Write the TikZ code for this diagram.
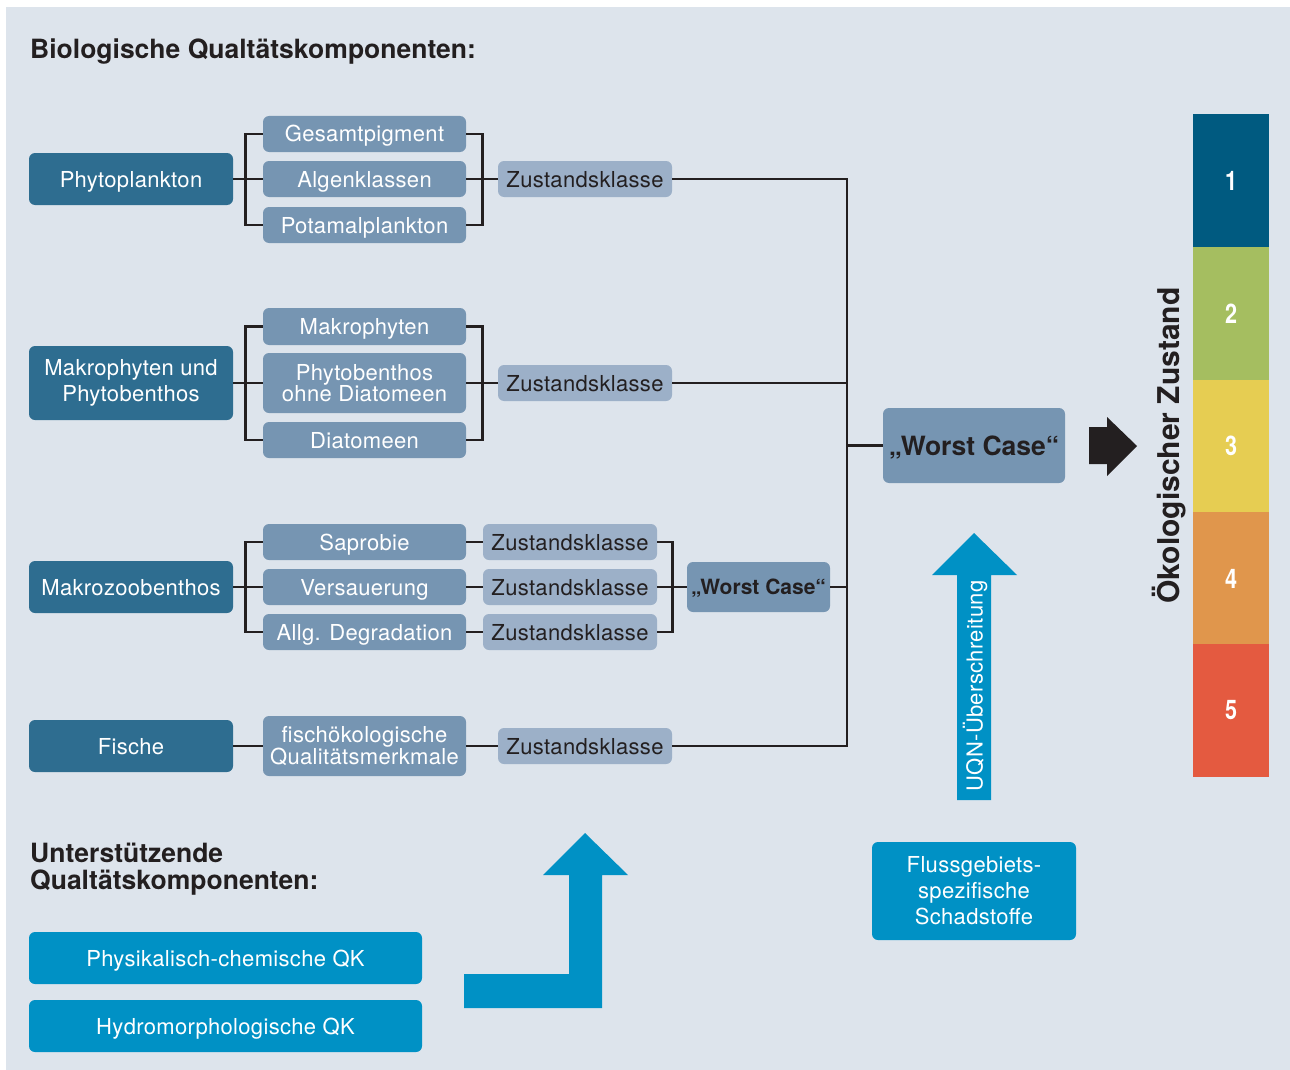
\documentclass[tikz,border=0pt]{standalone}
\usepackage{fontspec}
\setmainfont{TeX Gyre Heros}
\newfontfamily\boxfont[LetterSpace=1.5]{TeX Gyre Heros}
\newfontfamily\numfont[FakeStretch=0.8]{TeX Gyre Heros}
\definecolor{bgc}{HTML}{DDE4EC}
\definecolor{dkbox}{HTML}{2E6D90}
\definecolor{mdbox}{HTML}{7695B2}
\definecolor{ltbox}{HTML}{9CB0C8}
\definecolor{ink}{HTML}{231F20}
\definecolor{qkblue}{HTML}{0091C5}
\definecolor{zA}{HTML}{005A80}
\definecolor{zB}{HTML}{A5BE60}
\definecolor{zC}{HTML}{E6CD52}
\definecolor{zD}{HTML}{E0964C}
\definecolor{zE}{HTML}{E45A40}
\tikzset{
  boxbase/.style={rounded corners=6pt, inner sep=0pt, align=center, font=\boxfont\fontsize{22}{21}\selectfont},
  sl/.style={text height=16pt, text depth=0pt},
  fillmain/.style={boxbase, fill=dkbox, text=white},
  fillsub/.style={boxbase, fill=mdbox, text=white},
  fillqk/.style={boxbase, fill=qkblue, text=white},
  mainbox/.style={fillmain, sl},
  subbox/.style={fillsub, sl},
  qkbox/.style={fillqk, sl},
  zkbox/.style={boxbase, fill=ltbox, text=ink, sl},
  wcbox/.style={boxbase, fill=mdbox, text=ink, font=\bfseries\fontsize{21}{21}\selectfont, text height=15pt, text depth=0pt},
  barseg/.style={inner sep=0pt, text=white, font=\numfont\bfseries\fontsize{27}{27}\selectfont},
  conn/.style={draw=ink, line width=2.8pt},
  heading/.style={inner sep=0pt, text=ink, font=\bfseries\fontsize{26.5}{27}\selectfont}
}
\newcommand\bx[7]{\node[#2, minimum width={#5-#3}, minimum height={#6-#4}] (#1) at ({(#3+#5)/2},{(#4+#6)/2}) {#7};}
\begin{document}
\begin{tikzpicture}[x=1pt,y=-1pt]
\useasboundingbox (0,0) rectangle (1290,1070);
\fill[white] (0,0) rectangle (1290,1070);
\fill[bgc] (6,7) rectangle (1290,1070);

% headings
\node[heading, anchor=base west] (title) at (30,59) {Biologische Qualtätskomponenten:};
\node[heading, anchor=base west] (sub1) at (30,862) {Unterstützende};
\node[heading, anchor=base west] (sub2) at (30,889) {Qualtätskomponenten:};

% Phytoplankton
\bx{phyto}{mainbox}{29}{153}{233}{205}{Phytoplankton}
\bx{gesamt}{subbox}{263}{116}{466}{152}{Gesamtpigment}
\bx{algen}{subbox}{263}{161}{466}{197}{Algenklassen}
\bx{potamal}{subbox}{263}{207}{466}{243}{Potamalplankton}
\bx{zkA}{zkbox}{498}{161}{672}{197}{Zustandsklasse}

% Makrophyten
\bx{makro}{fillmain, font=\boxfont\fontsize{22}{26}\selectfont}{29}{346}{233}{420}{Makrophyten und\\Phytobenthos}
\bx{makroph}{subbox}{263}{308}{466}{345}{Makrophyten}
\bx{phytob}{fillsub}{263}{353}{466}{413}{Phytobenthos\\ohne Diatomeen}
\bx{diat}{subbox}{263}{422}{466}{458}{Diatomeen}
\bx{zkB}{zkbox}{498}{365}{672}{401}{Zustandsklasse}

% Makrozoobenthos
\bx{mzb}{mainbox}{29}{561}{233}{613}{Makrozoobenthos}
\bx{sapro}{subbox}{263}{524}{466}{560}{Saprobie}
\bx{versau}{subbox}{263}{569}{466}{605}{Versauerung}
\bx{degrad}{subbox}{263}{614}{466}{650}{Allg. Degradation}
\bx{zkCa}{zkbox}{483}{524}{657}{560}{Zustandsklasse}
\bx{zkCb}{zkbox}{483}{569}{657}{605}{Zustandsklasse}
\bx{zkCc}{zkbox}{483}{614}{657}{650}{Zustandsklasse}
\bx{wcsmall}{wcbox}{687}{562}{830}{612}{„Worst Case“}

% Fische
\bx{fische}{mainbox}{29}{720}{233}{772}{Fische}
\bx{fischq}{fillsub}{263}{716}{466}{776}{fischökologische\\Qualitätsmerkmale}
\bx{zkD}{zkbox}{498}{728}{672}{764}{Zustandsklasse}

% big worst case
\bx{wc}{wcbox, font=\bfseries\fontsize{26.5}{27}\selectfont, text height=19pt}{883}{408}{1065}{483}{„Worst Case“}

% supporting
\bx{flus}{fillqk, font=\boxfont\fontsize{22}{26}\selectfont}{872}{842}{1076}{940}{Flussgebiets-\\spezifische\\Schadstoffe}
\bx{phys}{qkbox}{29}{932}{422}{984}{Physikalisch-chemische QK}
\bx{hydro}{qkbox}{29}{1000}{422}{1052}{Hydromorphologische QK}

% connectors: Phytoplankton
\draw[conn] (phyto.east) -- (algen.west);
\draw[conn] (gesamt.west) -- ++(-17,0) |- (potamal.west);
\draw[conn] (gesamt.east) -- ++(16,0) |- (potamal.east);
\draw[conn] (algen.east) -- (zkA.west);
% Makrophyten
\draw[conn] (makro.east) -- (phytob.west);
\draw[conn] (makroph.west) -- ++(-17,0) |- (diat.west);
\draw[conn] (makroph.east) -- ++(16,0) |- (diat.east);
\draw[conn] (phytob.east) -- (zkB.west);
% Makrozoobenthos
\draw[conn] (mzb.east) -- (versau.west);
\draw[conn] (sapro.west) -- ++(-17,0) |- (degrad.west);
\draw[conn] (sapro.east) -- (zkCa.west);
\draw[conn] (versau.east) -- (zkCb.west);
\draw[conn] (degrad.east) -- (zkCc.west);
\draw[conn] (zkCa.east) -- ++(15,0) |- (zkCc.east);
\draw[conn] (zkCb.east) -- (wcsmall.west);
% Fische
\draw[conn] (fische.east) -- (fischq.west);
\draw[conn] (fischq.east) -- (zkD.west);
% collector
\coordinate (hx) at (847,0);
\draw[conn] (zkA.east) -| (hx |- zkD.east) -- (zkD.east);
\draw[conn] (zkB.east) -- (zkB.east -| hx);
\draw[conn] (wcsmall.east) -- (wcsmall.east -| hx);
\draw[conn] (hx |- wc.west) -- (wc.west);

% black arrow
\fill[ink] (1089,427) -- (1107,427) -- (1107,417) -- (1137,446) -- (1107,476) -- (1107,464) -- (1089,464) -- cycle;

% colour bar
\node[barseg, fill=zA, minimum width=76, minimum height=133] (s1) at (1231,181) {1};
\node[barseg, fill=zB, minimum width=76, minimum height=133] (s2) at (1231,313.5) {2};
\node[barseg, fill=zC, minimum width=76, minimum height=133] (s3) at (1231,446) {3};
\node[barseg, fill=zD, minimum width=76, minimum height=133] (s4) at (1231,578.5) {4};
\node[barseg, fill=zE, minimum width=76, minimum height=133] (s5) at (1231,710.5) {5};
\node[heading, rotate=90, anchor=base, font=\bfseries\fontsize{30}{30}\selectfont] (oeko) at (1179,445.5) {Ökologischer Zustand};

% UQN arrow
\fill[qkblue] (957,800) -- (957,575) -- (932,575) -- (974,533) -- (1017,575) -- (991,575) -- (991,800) -- cycle;
\node[rotate=90, inner sep=0pt, text=white, font=\boxfont\fontsize{22}{22}\selectfont] (uqn) at (975,686) {UQN-Überschreitung};

% L arrow
\fill[qkblue] (464,974) -- (569,974) -- (569,875) -- (543,875) -- (585,833) -- (628,875) -- (602,875) -- (602,1008) -- (464,1008) -- cycle;
\end{tikzpicture}
\end{document}
